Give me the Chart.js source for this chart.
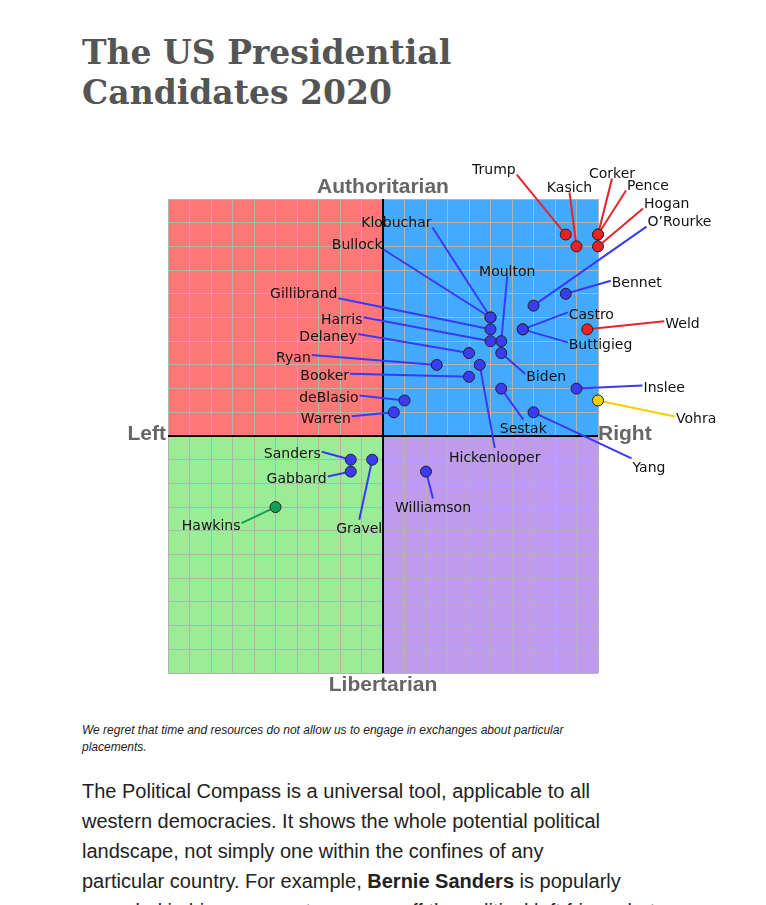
<!DOCTYPE html>
<html>
<head>
<meta charset="utf-8">
<title>The US Presidential Candidates 2020</title>
<script src="https://cdn.jsdelivr.net/npm/chart.js@4.4.1/dist/chart.umd.min.js"></script>
<style>
  body {
    margin: 0;
    background: #fff;
    width: 766px;
    height: 905px;
    overflow: hidden;
    position: relative;
    font-family: "Liberation Sans", Arial, sans-serif;
  }
  h1 {
    position: absolute;
    left: 82px;
    top: 33px;
    margin: 0;
    font-family: "DejaVu Serif", Georgia, serif;
    font-weight: bold;
    font-size: 33px;
    line-height: 40px;
    color: #555;
  }
  #wrap {
    position: absolute;
    left: 0;
    top: 150px;
    width: 766px;
    height: 560px;
  }
  .note {
    position: absolute;
    left: 82px;
    top: 722px;
    font-style: italic;
    font-size: 12px;
    line-height: 17px;
    color: #222;
    white-space: nowrap;
  }
  .text {
    position: absolute;
    left: 82px;
    top: 776px;
    font-size: 20px;
    line-height: 30px;
    color: #222;
    white-space: nowrap;
  }
</style>
</head>
<body>
<h1>The US Presidential<br>Candidates 2020</h1>

<div id="wrap"><canvas id="compass" width="766" height="560"></canvas></div>

<div class="note">We regret that time and resources do not allow us to engage in exchanges about particular<br>placements.</div>

<div class="text">The Political Compass is a universal tool, applicable to all<br>
western democracies. It shows the whole potential political<br>
landscape, not simply one within the confines of any<br>
particular country. For example, <b>Bernie Sanders</b> is popularly<br>
regarded in his own country as way off the political left fringe, but</div>

<script>
// candidates, economic (left/right) and social (libertarian/authoritarian) scores
const names = ["Trump", "Kasich", "Corker", "Pence", "Hogan", "O\u2019Rourke", "Bennet",
  "Klobuchar", "Bullock", "Moulton", "Gillibrand", "Harris", "Delaney", "Biden", "Ryan",
  "Hickenlooper", "Booker", "Castro", "Buttigieg", "Weld", "Inslee", "Vohra", "Sestak",
  "deBlasio", "Warren", "Yang", "Sanders", "Gabbard", "Gravel", "Williamson", "Hawkins"];
const economic = [8.5, 9, 10, 10, 10, 7, 8.5,
  5, 5, 5.5, 5, 5, 4, 5.5, 2.5,
  4.5, 4, 6.5, 6.5, 9.5, 9, 10, 5.5,
  1, 0.5, 7, -1.5, -1.5, -0.5, 2, -5];
const social = [8.5, 8, 8.5, 8.5, 8, 5.5, 6,
  5, 5, 4, 4.5, 4, 3.5, 3.5, 3,
  3, 2.5, 4.5, 4.5, 4.5, 2, 1.5, 2,
  1.5, 1, 1, -1, -1.5, -1, -1.5, -3];
const party = ["R", "R", "R", "R", "R", "D", "D",
  "D", "D", "D", "D", "D", "D", "D", "D",
  "D", "D", "D", "D", "R", "D", "O", "D",
  "D", "D", "D", "D", "D", "D", "D", "G"];
const axisNames = ["Authoritarian", "Libertarian", "Left", "Right"];

// styling
const partyFill = { R: "#ee2024", D: "#3b3bf2", O: "#ffcc00", G: "#12a055" };
const partyLine = { R: "#e3262b", D: "#3a3af5", O: "#ffcc00", G: "#12a055" };
const quadFill = { tl: "#ff7777", tr: "#44aaff", bl: "#9aec97", br: "#c09aec" };

// label placement: [dx, dy, textAlign, textBaseline] in px from the point
const labelPos = {
  "Trump": [-49, -60, "right", "bottom"],
  "Kasich": [-7, -54, "center", "bottom"],
  "Corker": [14, -56, "center", "bottom"],
  "Pence": [28, -44, "left", "bottom"],
  "Hogan": [45, -38, "left", "bottom"],
  "O\u2019Rourke": [113, -79, "left", "bottom"],
  "Bennet": [45, -13, "left", "middle"],
  "Klobuchar": [-58, -90, "right", "bottom"],
  "Bullock": [-107, -68, "right", "bottom"],
  "Moulton": [6, -65, "center", "bottom"],
  "Gillibrand": [-152, -31, "right", "bottom"],
  "Harris": [-127, -24, "right", "middle"],
  "Delaney": [-111, -19, "right", "middle"],
  "Biden": [24, 21, "left", "middle"],
  "Ryan": [-125, -10, "right", "middle"],
  "Hickenlooper": [15, 83, "center", "top"],
  "Booker": [-119, -3, "right", "middle"],
  "Castro": [45, -17, "left", "middle"],
  "Buttigieg": [45, 13, "left", "middle"],
  "Weld": [77, -8, "left", "middle"],
  "Inslee": [66, -3, "left", "middle"],
  "Vohra": [77, 16, "left", "middle"],
  "Sestak": [22, 31, "center", "top"],
  "deBlasio": [-45, -5, "right", "middle"],
  "Warren": [-42, 4, "right", "middle"],
  "Yang": [98, 46, "left", "top"],
  "Sanders": [-29, -8, "right", "middle"],
  "Gabbard": [-23, 5, "right", "middle"],
  "Gravel": [-13, 60, "center", "top"],
  "Williamson": [7, 27, "center", "top"],
  "Hawkins": [-34, 16, "right", "middle"]
};

// one dataset per party colour
const groups = ["R", "D", "O", "G"];
const datasets = groups.map(function (g) {
  const pts = [];
  names.forEach(function (n, i) {
    if (party[i] === g) pts.push({ x: economic[i], y: social[i], name: n });
  });
  return {
    data: pts,
    backgroundColor: partyFill[g],
    borderColor: "#222",
    borderWidth: 1,
    pointRadius: 5.5,
    pointHoverRadius: 5.5,
    clip: false
  };
});

// quadrant colours behind the grid
const quadrants = {
  id: "quadrants",
  beforeDraw(chart) {
    const { ctx, chartArea: a, scales } = chart;
    const cx = scales.x.getPixelForValue(0);
    const cy = scales.y.getPixelForValue(0);
    ctx.save();
    ctx.fillStyle = quadFill.tl; ctx.fillRect(a.left, a.top, cx - a.left, cy - a.top);
    ctx.fillStyle = quadFill.tr; ctx.fillRect(cx, a.top, a.right - cx, cy - a.top);
    ctx.fillStyle = quadFill.bl; ctx.fillRect(a.left, cy, cx - a.left, a.bottom - cy);
    ctx.fillStyle = quadFill.br; ctx.fillRect(cx, cy, a.right - cx, a.bottom - cy);
    ctx.restore();
  }
};

// centre axes, connectors and names
const annotate = {
  id: "annotate",
  beforeDatasetsDraw(chart) {
    const { ctx, chartArea: a, scales } = chart;
    const cx = scales.x.getPixelForValue(0);
    const cy = scales.y.getPixelForValue(0);
    ctx.save();
    ctx.strokeStyle = "#000";
    ctx.lineWidth = 2;
    ctx.beginPath();
    ctx.moveTo(cx, a.top); ctx.lineTo(cx, a.bottom);
    ctx.moveTo(a.left, cy); ctx.lineTo(a.right, cy);
    ctx.stroke();

    ctx.lineWidth = 2;
    names.forEach(function (n, i) {
      const px = scales.x.getPixelForValue(economic[i]);
      const py = scales.y.getPixelForValue(social[i]);
      const p = labelPos[n];
      ctx.strokeStyle = partyLine[party[i]];
      ctx.beginPath();
      ctx.moveTo(px, py);
      ctx.lineTo(px + p[0], py + p[1]);
      ctx.stroke();
    });

    ctx.fillStyle = "#111";
    ctx.font = '14px "DejaVu Sans", Verdana, sans-serif';
    names.forEach(function (n, i) {
      const px = scales.x.getPixelForValue(economic[i]);
      const py = scales.y.getPixelForValue(social[i]);
      const p = labelPos[n];
      let tx = px + p[0];
      if (p[2] === "left") tx += 1;
      if (p[2] === "right") tx -= 1;
      ctx.textAlign = p[2];
      ctx.textBaseline = p[3];
      ctx.fillText(n, tx, py + p[1] + 3);
    });

    // axis names
    ctx.fillStyle = "#666";
    ctx.font = 'bold 21px "Liberation Sans", Arial, sans-serif';
    ctx.textBaseline = "middle";
    ctx.textAlign = "center";
    ctx.fillText(axisNames[0], cx, a.top - 12);
    ctx.fillText(axisNames[1], cx, a.bottom + 12);
    ctx.textAlign = "right";
    ctx.fillText(axisNames[2], a.left - 2, cy - 2);
    ctx.textAlign = "left";
    ctx.fillText(axisNames[3], a.right, cy - 2);
    ctx.restore();
  }
};

document.addEventListener("DOMContentLoaded", function () {
  const ctx = document.getElementById("compass").getContext("2d");

  const gridOpts = {
    color: "#b3b3b3",
    lineWidth: 1,
    drawTicks: false
  };

  new Chart(ctx, {
    type: "scatter",
    data: { datasets: datasets },
    options: {
      responsive: false,
      animation: false,
      layout: { padding: { left: 168, right: 168, top: 49, bottom: 37 } },
      plugins: {
        legend: { display: false },
        tooltip: { enabled: false }
      },
      scales: {
        x: {
          type: "linear",
          min: -10,
          max: 10,
          ticks: { display: false, stepSize: 1 },
          grid: gridOpts,
          border: { display: false }
        },
        y: {
          type: "linear",
          min: -10,
          max: 10,
          ticks: { display: false, stepSize: 1 },
          grid: gridOpts,
          border: { display: false }
        }
      }
    },
    plugins: [quadrants, annotate]
  });
});
</script>
</body>
</html>
